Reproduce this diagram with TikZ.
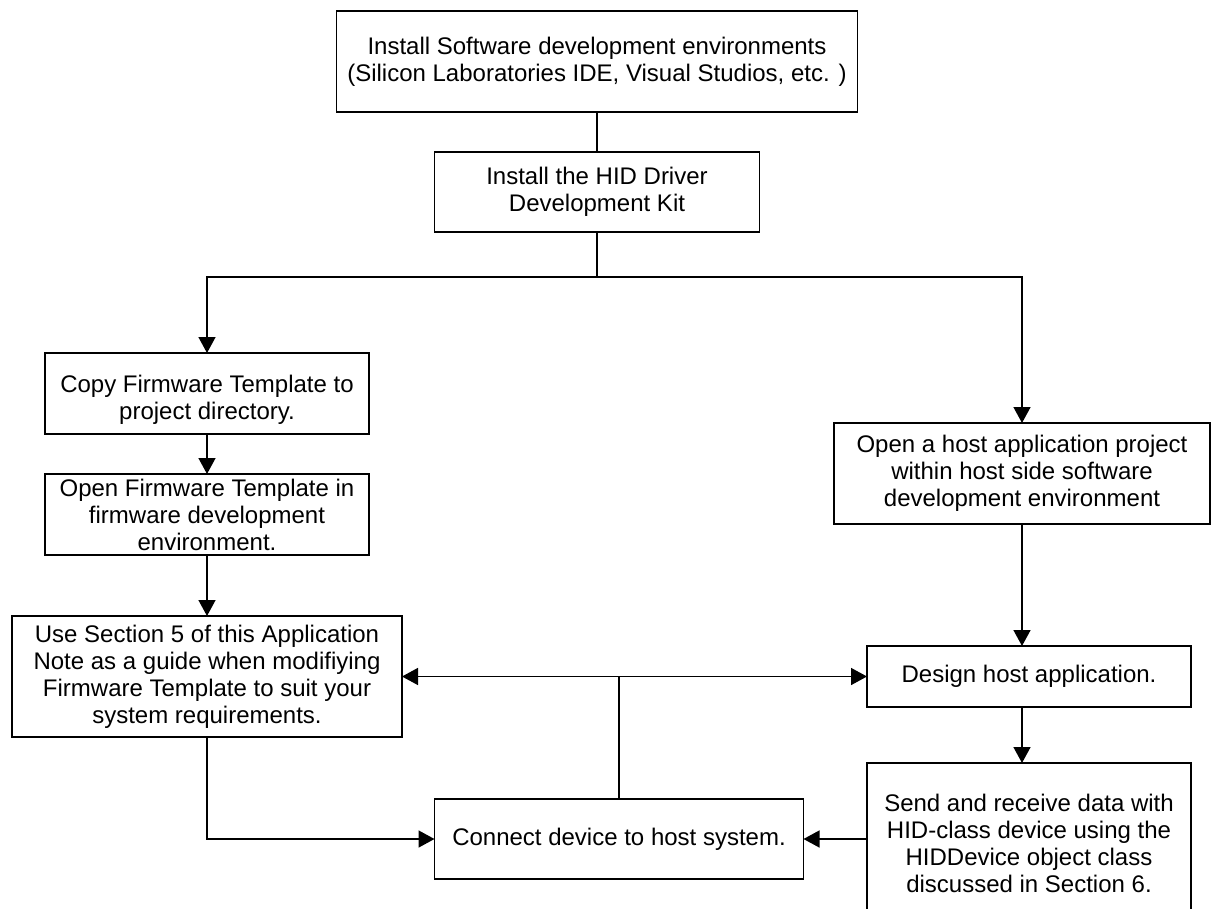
\documentclass[tikz,border=0pt]{standalone}
\usepackage{fontspec}
\setmainfont{Liberation Sans}
\usepackage{tikz}
\usetikzlibrary{positioning}
\usetikzlibrary{arrows.meta}

\begin{document}
\begin{tikzpicture}[
        x = 1pt, y = -1pt,
        box/.style = {
                draw,
                rectangle,
                align = center,
                minimum width = #1,
                inner sep = 0pt,
                outer sep = 0pt,
                line width = 1.5pt,
                font = \fontsize{24}{27}\selectfont
            },
            box/.default = 324pt,
            link/.style = {line width = 1.5pt},
            arrow/.style = {link, -{Triangle[length = 16pt, width = 17pt]}}
        ]
        \path[use as bounding box, clip] (0,0) rectangle (1212,909);

        % setup steps
        \node[box = 521pt, minimum height = 101pt] (inst) at (597, 61.5) {Install Software development environments\\(Silicon Laboratories IDE, Visual Studios, etc. )};
        \node[box = 325pt, minimum height = 80pt, below = 40pt of inst] (hid) {Install the HID Driver\\Development Kit};

        % firmware side
        \node[box, minimum height = 81pt] (copy) at (207, 393.5) {\rule{0pt}{29pt}Copy Firmware Template to\\project directory.};
        \node[box, minimum height = 81pt, below = 40pt of copy] (open) {Open Firmware Template in\\firmware development\\environment.};
        \node[box = 390pt, minimum height = 121pt, below = 61pt of open] (use) {Use Section 5 of this Application\\Note as a guide when modifiying\\Firmware Template to suit your\\system requirements.};

        % host side
        \node[box = 376pt, minimum height = 101pt] (host) at (1022, 473.5) {Open a host application project\\within host side software\\development environment};
        \node[box, minimum height = 61pt] (design) at (1029, 676.5) {Design host application.};
        \node[box, minimum height = 160pt, below = 56pt of design] (send) {Send and receive data with\\HID-class device using the\\HIDDevice object class\\discussed in Section 6.};

        \node[box = 369pt, minimum height = 80pt] (connect) at (619, 839) {Connect device to host system.};

        \coordinate (split) at (597, 277);
        \coordinate (hub) at (connect.north |- use.east);

        \draw[link] (inst) -- (hid);
        \draw[link] (hid) -- (split);
        \draw[arrow] (split) -| (copy);
        \draw[arrow] (split) -| (host);

        \draw[arrow] (copy) -- (open);
        \draw[arrow] (open) -- (use);
        \draw[arrow] (host) -- (host |- design.north);
        \draw[arrow] (host |- design.south) -- (host |- send.north);

        \draw[link] (connect) -- (hub);
        \draw[arrow] (hub) -- (use);
        \draw[arrow] (hub) -- (design);
        \draw[arrow] (use) |- (connect);
        \draw[arrow] (send.west |- connect) -- (connect);

    \end{tikzpicture}
\end{document}
